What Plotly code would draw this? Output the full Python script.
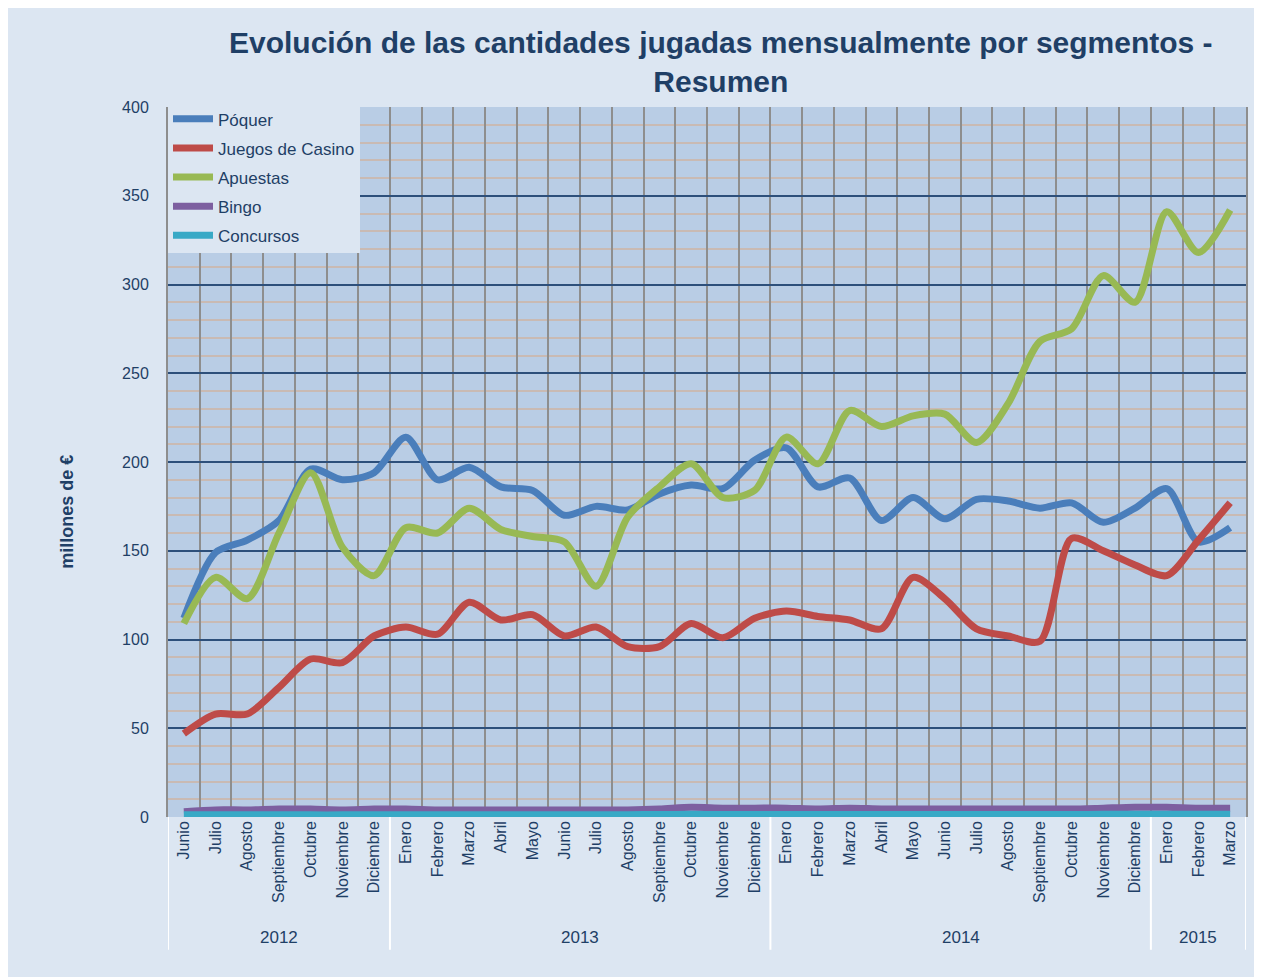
import plotly.graph_objects as go

# ---------------- data ----------------
years_months = {
    "2012": ["Junio", "Julio", "Agosto", "Septiembre", "Octubre", "Noviembre", "Diciembre"],
    "2013": ["Enero", "Febrero", "Marzo", "Abril", "Mayo", "Junio", "Julio", "Agosto",
             "Septiembre", "Octubre", "Noviembre", "Diciembre"],
    "2014": ["Enero", "Febrero", "Marzo", "Abril", "Mayo", "Junio", "Julio", "Agosto",
             "Septiembre", "Octubre", "Noviembre", "Diciembre"],
    "2015": ["Enero", "Febrero", "Marzo"],
}
month_labels = [m for ms in years_months.values() for m in ms]
x_keys = [f"{m} {y}" for y, ms in years_months.items() for m in ms]

poquer = [112, 149, 156, 167, 196, 190, 194,
          214, 190, 197, 186, 184, 170, 175, 173, 182, 187, 185, 201,
          208, 186, 191, 167, 180, 168, 179, 178, 174, 177, 166, 174,
          185, 155, 163]
casino = [47, 58, 58, 73, 89, 87, 102,
          107, 103, 121, 111, 114, 102, 107, 96, 96, 109, 101, 112,
          116, 113, 111, 106, 135, 123, 106, 102, 99, 157, 150, 142,
          136, 156, 177]
apuestas = [109, 135, 123, 160, 194, 152, 136,
            163, 160, 174, 162, 158, 155, 130, 169, 186, 199, 180, 184,
            214, 199, 229, 220, 226, 227, 211, 233, 268, 275, 305, 290,
            341, 318, 342]
bingo = [3, 4, 4, 4.5, 4.5, 4, 4.5,
         4.5, 4, 4, 4, 4, 4, 4, 4, 4.5, 5.5, 5, 5,
         5, 4.5, 5, 4.5, 4.5, 4.5, 4.5, 4.5, 4.5, 4.5, 5, 5.5,
         5.5, 5, 5]
concursos = [1.2, 1.2, 1.2, 1.2, 1.2, 1.2, 1.3,
             1.3, 1.3, 1.3, 1.3, 1.3, 1.3, 1.3, 1.3, 1.4, 1.5, 1.4, 1.4,
             1.4, 1.4, 1.4, 1.4, 1.4, 1.4, 1.4, 1.4, 1.4, 1.4, 1.5, 1.5,
             1.5, 1.5, 1.5]

series = [
    ("Póquer", poquer, "#4a7ebb"),
    ("Juegos de Casino", casino, "#be4b48"),
    ("Apuestas", apuestas, "#98b954"),
    ("Bingo", bingo, "#7d5fa0"),
    ("Concursos", concursos, "#38a9c6"),
]

y_ticks = [0, 50, 100, 150, 200, 250, 300, 350, 400]

TXT = "#1f3f66"
FONT = "Liberation Sans, Arial, sans-serif"

fig = go.Figure()
for name, vals, col in series:
    fig.add_trace(go.Scatter(
        x=x_keys, y=vals, name=name, mode="lines", legendgroup=name,
        line=dict(color=col, width=7, shape="spline", smoothing=0.8),
    ))

fig.update_layout(
    width=1254, height=969,
    margin=dict(l=160, r=16, t=99, b=160),
    paper_bgcolor="#dce6f2",
    plot_bgcolor="#b9cde5",
    font=dict(family=FONT, color=TXT, size=16),
    legend=dict(
        x=0.0, y=1.008, xanchor="left", yanchor="top",
        bgcolor="#dce6f2", borderwidth=0,
        font=dict(size=17, color=TXT),
        itemwidth=40, tracegroupgap=4,
    ),
    showlegend=True,
)

# title as annotation (two lines)
fig.add_annotation(
    text="<b>Evolución de las cantidades jugadas mensualmente por segmentos -<br>Resumen</b>",
    xref="paper", yref="paper", x=0.513, y=1.0634, xanchor="center", yanchor="middle",
    showarrow=False, font=dict(size=30, color=TXT), align="center",
)

# y-axis title
fig.add_annotation(
    text="<b>millones de €</b>", textangle=-90,
    xref="paper", yref="paper", x=-0.0937, y=0.43, xanchor="center", yanchor="middle",
    showarrow=False, font=dict(size=18, color=TXT),
)

fig.update_xaxes(
    type="category",
    categoryorder="array", categoryarray=x_keys,
    tickvals=x_keys, ticktext=month_labels,
    tickson="boundaries",
    showgrid=True, gridcolor="#8e8e8e", gridwidth=2,
    tickangle=-90,
    tickfont=dict(size=16, color=TXT),
    ticks="", showline=False, zeroline=False,
    range=[-0.5, len(x_keys) - 0.5],
)
fig.update_yaxes(
    range=[0, 400], tickvals=y_ticks,
    showgrid=True, gridcolor="#2d4f7a", gridwidth=2,
    minor=dict(dtick=10, showgrid=True, gridcolor="#c9bab3", gridwidth=1.5),
    showline=True, linecolor="#8e8e8e", linewidth=2, mirror=True,
    zeroline=False,
    tickfont=dict(size=16, color=TXT),
    ticks="", ticklabelstandoff=14,
)

# year group labels and white dividers
start = 0
bounds = [-0.5]
for y, ms in years_months.items():
    n = len(ms)
    fig.add_annotation(text=y, x=start + (n - 1) / 2, xref="x", y=-0.1704, yref="paper",
                       xanchor="center", yanchor="middle", showarrow=False,
                       font=dict(size=17, color=TXT))
    start += n
    bounds.append(start - 0.5)
for b in bounds:
    fig.add_shape(type="line", xref="x", yref="paper", x0=b, x1=b, y0=0, y1=-0.187,
                  line=dict(color="white", width=2))

fig.write_html("out.html")
